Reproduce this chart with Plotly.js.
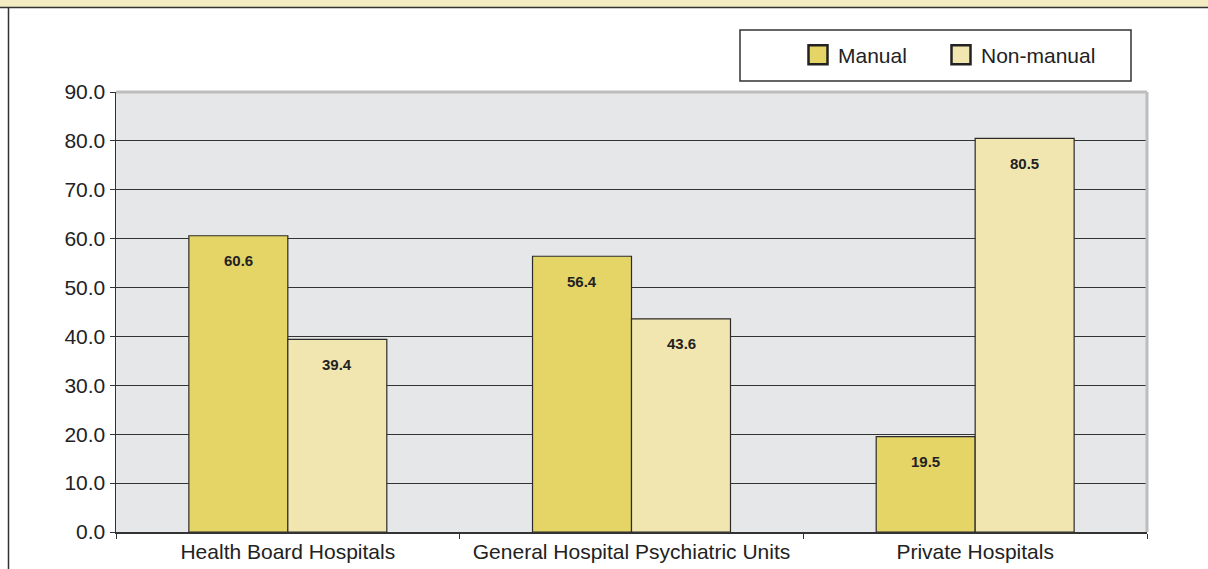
<!DOCTYPE html>
<html>
<head>
<meta charset="utf-8">
<script src="https://cdn.plot.ly/plotly-3.0.1.min.js"></script>
<style>
html,body{margin:0;padding:0;background:#fff;}
#chart{width:1208px;height:569px;}
</style>
</head>
<body>
<div id="chart"></div>
<script>
const categories = ["Health Board Hospitals", "General Hospital Psychiatric Units", "Private Hospitals"];
const manual = [60.6, 56.4, 19.5];
const nonManual = [39.4, 43.6, 80.5];
const seriesNames = ["Manual", "Non-manual"];
const yTicks = [0, 10, 20, 30, 40, 50, 60, 70, 80, 90];

const W = 1208, H = 569;
const L = 116, R = 61, T = 92, B = 37;
const pw = W - L - R, ph = H - T - B;
const px = v => (v - L) / pw;          // pixel -> paper x
const py = v => (H - B - v) / ph;      // pixel -> paper y
const FONT = "Liberation Sans, Arial, Helvetica, sans-serif";

const barLine = {color: "#2b2b2b", width: 1.2};
const traces = [
  {type: "bar", name: seriesNames[0], x: categories, y: manual, legend: "legend",
   marker: {color: "#E5D466", line: barLine}, hoverinfo: "x+y"},
  {type: "bar", name: seriesNames[1], x: categories, y: nonManual, legend: "legend2",
   marker: {color: "#F2E6B0", line: barLine}, hoverinfo: "x+y"}
];

const halfBar = 49.5;
const annotations = [];
[manual, nonManual].forEach((vals, si) => {
  vals.forEach((v, i) => {
    annotations.push({
      x: categories[i], y: v, xref: "x", yref: "y",
      text: "<b>" + v.toFixed(1) + "</b>", showarrow: false,
      xshift: si === 0 ? -halfBar : halfBar, yshift: -25,
      yanchor: "middle", xanchor: "center",
      font: {family: FONT, size: 15, color: "#222"}
    });
  });
});

const shapes = [
  {type: "rect", xref: "paper", yref: "paper", x0: px(-5), x1: px(W + 5), y0: py(7), y1: py(-5),
   fillcolor: "#F3EBC1", line: {width: 0}, layer: "below"},
  {type: "line", xref: "paper", yref: "paper", x0: px(-5), x1: px(W + 5), y0: py(7.5), y1: py(7.5),
   line: {color: "#333", width: 1.5}},
  {type: "line", xref: "paper", yref: "paper", x0: px(8.5), x1: px(8.5), y0: py(8), y1: py(H + 5),
   line: {color: "#333", width: 1.5}},
  {type: "line", xref: "paper", yref: "paper", x0: 0, x1: 1, y0: 1, y1: 1,
   line: {color: "#BDBDBD", width: 3}},
  {type: "line", xref: "paper", yref: "paper", x0: 1, x1: 1, y0: 0, y1: 1,
   line: {color: "#BDBDBD", width: 3}},
  {type: "rect", xref: "paper", yref: "paper", x0: px(740), x1: px(1131), y0: py(81), y1: py(30),
   fillcolor: "rgba(0,0,0,0)", line: {color: "#333", width: 1.5}}
];

const legendBase = {
  orientation: "h", xanchor: "left", y: py(55), yanchor: "middle",
  bgcolor: "rgba(0,0,0,0)", borderwidth: 0,
  font: {family: FONT, size: 21, color: "#222"}
};

const layout = {
  width: W, height: H,
  margin: {l: L, r: R, t: T, b: B, pad: 0},
  paper_bgcolor: "#ffffff",
  plot_bgcolor: "#E6E7E8",
  font: {family: FONT, size: 21, color: "#222"},
  barmode: "group",
  bargap: 0.424,
  bargroupgap: 0,
  showlegend: true,
  legend: Object.assign({}, legendBase, {x: px(798)}),
  legend2: Object.assign({}, legendBase, {x: px(941)}),
  xaxis: {
    type: "category", tickson: "boundaries", ticks: "outside", ticklen: 5,
    tickcolor: "#333", showline: true, linecolor: "#333", linewidth: 1.5,
    showgrid: false, tickfont: {family: FONT, size: 21, color: "#222"}, fixedrange: true
  },
  yaxis: {
    range: [0, 90], tickvals: yTicks, tickformat: ".1f", ticks: "outside", ticklen: 5,
    tickcolor: "#333", showline: true, linecolor: "#333", linewidth: 1.5,
    showgrid: true, gridcolor: "#333", gridwidth: 1, zeroline: false,
    tickfont: {family: FONT, size: 21, color: "#222"}, fixedrange: true
  },
  annotations: annotations,
  shapes: shapes
};

Plotly.newPlot("chart", traces, layout, {displayModeBar: false, staticPlot: true}).then(gd => {
  // enlarge legend swatches to match the reference's bigger squares
  gd.querySelectorAll(".legendpoints path").forEach(p => {
    p.setAttribute("d", "M9.5,9.5H-9.5V-9.5H9.5Z");
    p.style.strokeWidth = "2.5px";
    p.style.stroke = "#222";
  });
  // text sits a little further from the swatch in the reference
  gd.querySelectorAll(".legend2 .legendtext").forEach(t => {
    t.setAttribute("x", parseFloat(t.getAttribute("x") || 40) + 6);
  });
});
</script>
</body>
</html>
